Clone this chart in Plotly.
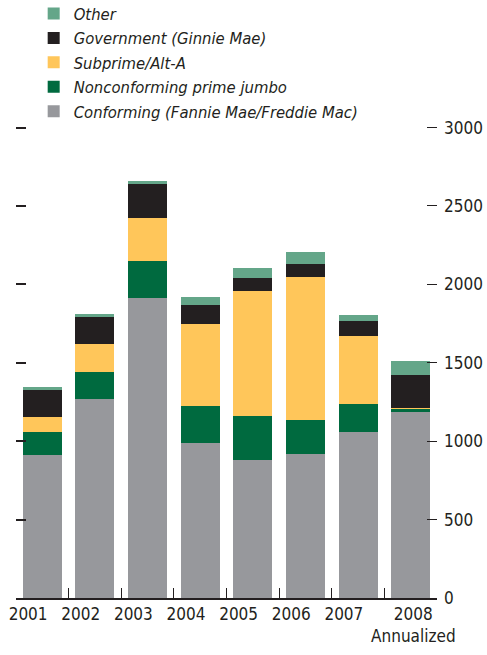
import plotly.graph_objects as go

years = ["2001", "2002", "2003", "2004", "2005", "2006", "2007", "2008<br>Annualized"]
conforming = [912, 1270, 1915, 989, 881, 919, 1059, 1187]
jumbo = [147, 172, 236, 236, 280, 217, 179, 19]
subprime = [96, 179, 274, 524, 798, 912, 434, 6]
government = [172, 172, 217, 121, 83, 83, 96, 211]
other = [19, 19, 19, 51, 64, 77, 38, 89]

series = [
    ("Conforming (Fannie Mae/Freddie Mac)", conforming, "#97989C"),
    ("Nonconforming prime jumbo", jumbo, "#006A3F"),
    ("Subprime/Alt-A", subprime, "#FFC65A"),
    ("Government (Ginnie Mae)", government, "#231F20"),
    ("Other", other, "#64A689"),
]
y_ticks = [0, 500, 1000, 1500, 2000, 2500, 3000]

FONT = "Liberation Sans Narrow, Arial Narrow, DejaVu Sans Condensed, sans-serif"
INK = "#231F20"

xpos = list(range(len(years)))
fig = go.Figure()
for name, vals, col in series:
    fig.add_trace(go.Bar(x=xpos, y=vals, name=name, marker=dict(color=col, line=dict(width=0)),
                         hoverinfo="skip"))
# helper traces so the overlay axes (left ticks, between-bar ticks) are drawn
fig.add_trace(go.Scatter(x=[0], y=[0], xaxis="x", yaxis="y2", mode="markers",
                         marker=dict(opacity=0), showlegend=False, hoverinfo="skip"))
fig.add_trace(go.Scatter(x=[0], y=[0], xaxis="x2", yaxis="y", mode="markers",
                         marker=dict(opacity=0), showlegend=False, hoverinfo="skip"))

label_pos = [i - 0.27 for i in range(len(years) - 1)] + [len(years) - 1 + 0.05]
y_top = 3010

fig.update_layout(
    width=487, height=655,
    margin=dict(l=16, r=50, t=126.4, b=57, autoexpand=False),
    paper_bgcolor="white", plot_bgcolor="white",
    barmode="stack", bargap=0.26,
    font=dict(family=FONT, size=17, color=INK),
    legend=dict(traceorder="reversed", x=0.042, y=1.275, xanchor="left", yanchor="top",
                font=dict(family=FONT, size=16.5, color=INK, style="italic"),
                bgcolor="rgba(0,0,0,0)"),
    xaxis=dict(range=[-0.5, 7.5], tickvals=label_pos, ticktext=years, ticks="",
               tickangle=0, showline=True, linecolor=INK, linewidth=1.5, showgrid=False,
               zeroline=False, automargin=False),
    xaxis2=dict(overlaying="x", anchor="y", side="bottom", range=[-0.5, 7.5],
                tickvals=[i + 0.5 for i in range(len(years) - 1)], ticks="inside", ticklen=10,
                tickcolor=INK, tickwidth=1.2, showticklabels=False, showgrid=False,
                zeroline=False, automargin=False),
    yaxis=dict(side="right", range=[0, y_top], tickvals=y_ticks, ticks="inside", ticklen=10,
               tickcolor=INK, tickwidth=1.2, showgrid=False, zeroline=False, showline=False,
               ticklabelstandoff=6, automargin=False),
    yaxis2=dict(overlaying="y", side="left", anchor="x", range=[0, y_top], tickvals=y_ticks[1:],
                ticks="inside", ticklen=10, tickcolor=INK, tickwidth=1.5, showticklabels=False,
                showgrid=False, zeroline=False, showline=False, automargin=False),
    showlegend=True,
)

fig.write_html("out.html", config={"displayModeBar": False},
               post_script="document.body.style.margin='0';document.body.style.overflow='hidden';")
